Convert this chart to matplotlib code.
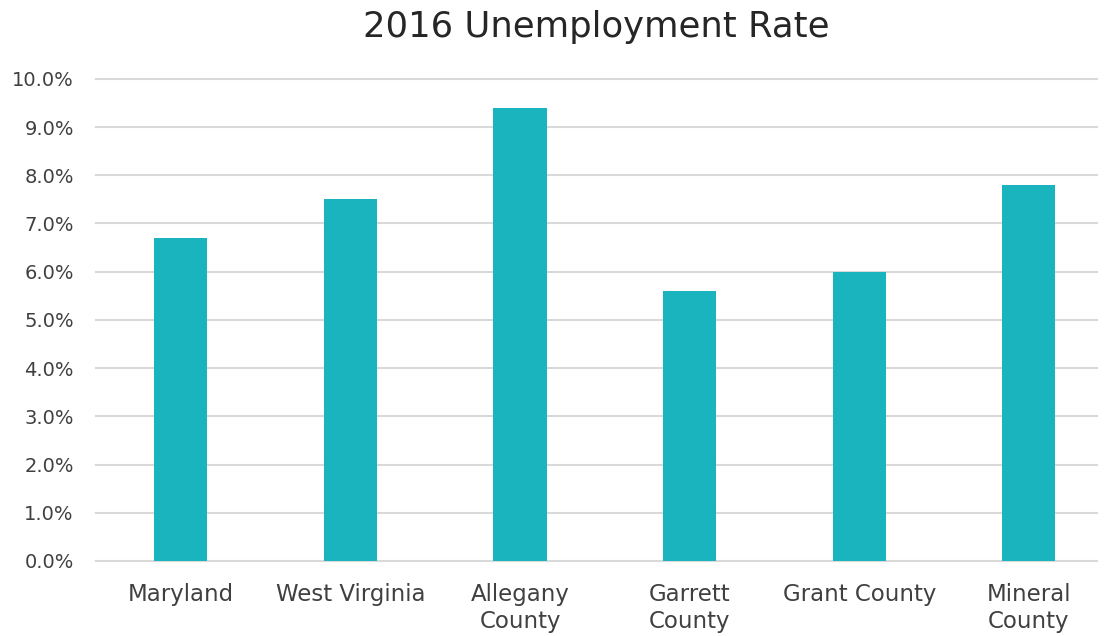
import numpy as np
import matplotlib.pyplot as plt
from matplotlib.ticker import PercentFormatter

# 2016 unemployment rates (%)
regions = ['Maryland', 'West Virginia', 'Allegany\nCounty', 'Garrett\nCounty', 'Grant County', 'Mineral\nCounty']
rates = [6.7, 7.5, 9.4, 5.6, 6.0, 7.8]

plt.rcParams['font.family'] = ['DejaVu Sans']

fig = plt.figure(figsize=(11.07, 6.36), dpi=100)
ax = fig.add_axes([0.0867, 0.118, 0.904, 0.758])

x = np.arange(len(regions))
ax.bar(x, rates, width=0.313, color='#19b4bd', zorder=3)

ax.set_ylim(0, 10)
ax.set_xlim(-0.5, 5.4)
ax.set_yticks(np.arange(0, 10.1, 1))
ax.yaxis.set_major_formatter(PercentFormatter(decimals=1))
ax.grid(axis='y', color='#d9d9d9', linewidth=1.5, zorder=0)
for gl in ax.get_ygridlines():
    gl.set_clip_on(False)
for s in ax.spines.values():
    s.set_visible(False)
ax.tick_params(axis='y', length=0, labelsize=14, colors='#404040', pad=16)
ax.tick_params(axis='x', length=0, labelsize=16.5, colors='#404040', pad=16)
ax.set_xticks(x)
ax.set_xticklabels(regions, va='top', linespacing=1.2)

ax.set_title('2016 Unemployment Rate', fontsize=25.5, color='#262626', pad=30)

fig.savefig('out.png', dpi=100)
